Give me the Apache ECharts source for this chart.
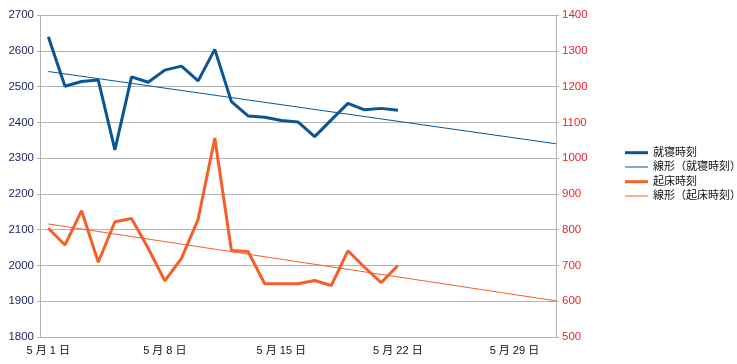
<!DOCTYPE html>
<html><head><meta charset="utf-8">
<script src="https://cdn.jsdelivr.net/npm/echarts@6/dist/echarts.min.js"></script>
<style>html,body{margin:0;padding:0;background:#fff}#c{width:737px;height:364px}</style>
</head><body><div id="c"></div>
<script>
const days = Array.from({length:31},(_,i)=>'5 月 '+(i+1)+' 日');
const bedTime = [2639,2501,2514,2518,2323,2527,2512,2546,2557,2516,2604,2458,2418,2414,2405,2401,2360,2407,2453,2435,2439,2434];
const wakeTime = [804,757,853,709,822,831,748,657,720,829,1056,742,739,649,649,649,658,644,741,695,652,700];
const bedTrend = [[0.5,2542],[31,2340]];
const wakeTrend = [[0.5,816],[31,601]];
const names = ['就寝時刻','線形（就寝時刻）','起床時刻','線形（起床時刻）'];
const BLUE = '#0a5592', ORANGE = '#f45f2a';
const font = '"Liberation Sans","Noto Sans CJK JP",sans-serif';
const legendText = {fontSize:11,color:'#111',fontFamily:font,lineHeight:14,padding:[0,0,0,0]};
const chart = echarts.init(document.getElementById('c'));
chart.setOption({
  animation:false,
  textStyle:{fontFamily:font},
  grid:{left:40,right:181,top:15,bottom:27,containLabel:false},
  legend:[
    {orient:'vertical',left:625,top:145.7,padding:0,itemWidth:23,itemHeight:3,itemGap:15,
     icon:'rect',textStyle:legendText,data:[names[0],names[2]]},
    {orient:'vertical',left:625,top:160,padding:0,itemWidth:23,itemHeight:1,itemGap:15,
     icon:'rect',textStyle:legendText,data:[names[1],names[3]]}
  ],
  xAxis:[{type:'category',data:days,boundaryGap:true,
    axisLine:{lineStyle:{color:'#b3b3b3'}},
    axisTick:{interval:6,length:4,lineStyle:{color:'#b3b3b3'}},
    axisLabel:{interval:6,color:'#111',fontSize:11,margin:8},
    splitLine:{show:false}},
   {type:'value',min:0,max:31,show:false}],
  yAxis:[{type:'value',min:1800,max:2700,interval:100,position:'left',
    axisLine:{show:true,lineStyle:{color:'#b3b3b3'}},
    axisTick:{show:true,length:3,lineStyle:{color:'#b3b3b3'}},
    axisLabel:{color:'#1c1f6a',fontSize:11.5,margin:6,formatter:v=>String(v)},
    splitLine:{lineStyle:{color:'#b3b3b3'}}},
   {type:'value',min:500,max:1400,interval:100,position:'right',
    axisLine:{show:true,lineStyle:{color:'#b3b3b3'}},
    axisTick:{show:true,length:3,lineStyle:{color:'#b3b3b3'}},
    axisLabel:{color:'#e8262a',fontSize:11.5,margin:6,formatter:v=>String(v)},
    splitLine:{show:false}}],
  series:[
    {name:names[0],type:'line',data:bedTime,xAxisIndex:0,yAxisIndex:0,symbol:'none',
     lineStyle:{width:3,color:BLUE},itemStyle:{color:BLUE},z:3},
    {name:names[1],type:'line',data:bedTrend,xAxisIndex:1,yAxisIndex:0,symbol:'none',
     lineStyle:{width:1,color:BLUE},itemStyle:{color:BLUE},z:2},
    {name:names[2],type:'line',data:wakeTime,xAxisIndex:0,yAxisIndex:1,symbol:'none',
     lineStyle:{width:3,color:ORANGE},itemStyle:{color:ORANGE},z:3},
    {name:names[3],type:'line',data:wakeTrend,xAxisIndex:1,yAxisIndex:1,symbol:'none',
     lineStyle:{width:1,color:ORANGE},itemStyle:{color:ORANGE},z:2}
  ]
});
</script></body></html>
